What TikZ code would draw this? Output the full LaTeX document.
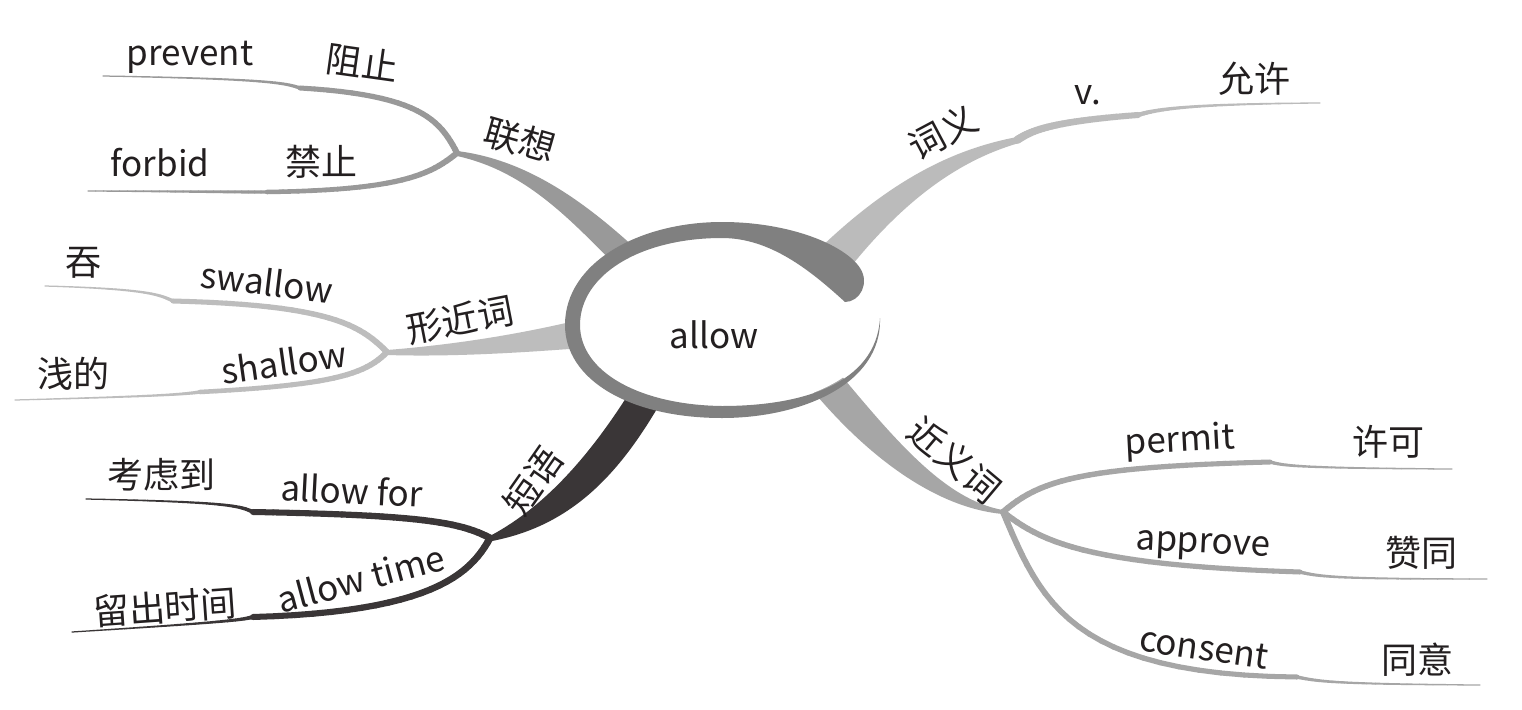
\documentclass[tikz,border=0pt]{standalone}
\usepackage{fontspec}
\setmainfont{Noto Sans CJK SC}
\definecolor{txt}{HTML}{231F20}
\definecolor{cLX}{HTML}{999999}
\definecolor{cXJ}{HTML}{BDBDBD}
\definecolor{cDY}{HTML}{3A3637}
\definecolor{cCY}{HTML}{BBBBBB}
\definecolor{cJY}{HTML}{A6A6A6}
\definecolor{cRing}{HTML}{808080}
\tikzset{
  lat/.style={text=txt, inner sep=0pt, font=\fontsize{35pt}{35pt}\selectfont},
  cjk/.style={text=txt, inner sep=0pt, font=\fontsize{36pt}{36pt}\selectfont},
}
% tapered curve: #1 start, #2 c1, #3 c2, #4 end, #5 w0, #6 w1, #7 colour
\newcommand\taperline[7]{%
  \path (#1) .. controls (#2) and (#3) .. (#4)
    foreach \k in {0,...,24} {coordinate[pos=\k/24] (tp-\k)};
  \foreach \k in {0,...,23}{%
    \pgfmathsetmacro\ww{#5+(#6-#5)*(\k+0.5)/24}%
    \pgfmathtruncatemacro\kn{\k+1}%
    \draw[line width=\ww pt, line cap=round, draw=#7] (tp-\k) -- (tp-\kn);
  }%
}
\begin{document}
\begin{tikzpicture}[x=1pt,y=-1pt]
\useasboundingbox (0,0) rectangle (1522,709);
\fill[white] (0,0) rectangle (1522,709);

% ---------- fork and step coordinates ----------
\coordinate (F1) at (457,153);   % lianxiang fork
\coordinate (F2) at (387,352);   % xingjinci fork
\coordinate (F3) at (490,538);   % duanyu fork
\coordinate (F5) at (1003,512);  % jinyici fork
\coordinate (N1) at (1017,140);  % ciyi notch 1
\coordinate (N2) at (1138,115);  % ciyi notch 2
\coordinate (Sa) at (300,88);  \coordinate (Ea) at (103,76);
\coordinate (Sb) at (267,192); \coordinate (Eb) at (88,191);
\coordinate (Sc) at (173,301); \coordinate (Ec) at (45,286);
\coordinate (Sd) at (200,392); \coordinate (Ed) at (15,400);
\coordinate (Se) at (253,512); \coordinate (Ee) at (86,499);
\coordinate (Sf) at (253,617); \coordinate (Ef) at (72,632);
\coordinate (Sg) at (1270,462); \coordinate (Eg) at (1452,469);
\coordinate (Sh) at (1300,572); \coordinate (Eh) at (1487,579);
\coordinate (Si) at (1297,677); \coordinate (Ei) at (1480,685);
\coordinate (Ej) at (1320,103);

% ---------- main branches ----------
\fill[cLX] (457,151) .. controls (530,160) and (590,205) .. (650,262)
  -- (630,280) .. controls (575,225) and (530,172) .. (457,156) -- cycle;
\fill[cXJ] (387,350) .. controls (450,345) and (520,335) .. (595,316)
  -- (595,347) .. controls (520,353) and (450,357) .. (387,355) -- cycle;
\fill[cDY] (488,537) .. controls (540,510) and (590,460) .. (642,372)
  -- (672,382) .. controls (625,470) and (575,525) .. (492,541) -- cycle;
\fill[cCY] (1017,137) .. controls (960,148) and (890,175) .. (800,268)
  -- (835,287) .. controls (900,200) and (960,160) .. (1019,143) -- cycle;
\fill[cJY] (835,368) .. controls (895,440) and (945,500) .. (1003,510)
  -- (1003,514) .. controls (935,508) and (865,455) .. (808,385) -- cycle;

% ---------- sub branches ----------
\taperline{F1}{440,120}{420,95}{Sa}{6}{5}{cLX}
\taperline{Sa}{285,83}{270,79}{Ea}{3.5}{1.2}{cLX}
\taperline{F1}{430,175}{400,190}{Sb}{6}{4.5}{cLX}
\taperline{Sb}{220,192}{150,191}{Eb}{3.5}{1.2}{cLX}

\taperline{F2}{360,325}{330,305}{Sc}{6}{5}{cXJ}
\taperline{Sc}{160,295}{150,289}{Ec}{3.5}{1.2}{cXJ}
\taperline{F2}{365,375}{330,385}{Sd}{6}{4.5}{cXJ}
\taperline{Sd}{185,394}{170,396}{Ed}{3.5}{1.2}{cXJ}

\taperline{F3}{460,522}{420,515}{Se}{7}{6}{cDY}
\taperline{Se}{240,506}{230,502}{Ee}{4}{1.2}{cDY}
\taperline{F3}{470,575}{430,612}{Sf}{7}{6}{cDY}
\taperline{Sf}{240,620}{230,622}{Ef}{4}{1.2}{cDY}

\taperline{N1}{1030,132}{1045,122}{N2}{8}{6}{cCY}
\taperline{N2}{1160,108}{1200,104}{Ej}{4.5}{1.2}{cCY}

\taperline{F5}{1040,480}{1080,467}{Sg}{6}{5}{cJY}
\taperline{Sg}{1285,466}{1300,468}{Eg}{3.5}{1.2}{cJY}
\taperline{F5}{1040,540}{1080,565}{Sh}{6}{5}{cJY}
\taperline{Sh}{1320,577}{1340,579}{Eh}{3.5}{1.2}{cJY}
\taperline{F5}{1040,600}{1070,675}{Si}{6}{5}{cJY}
\taperline{Si}{1320,682}{1340,684}{Ei}{3.5}{1.2}{cJY}

% ---------- central ellipse ----------
\fill[white] (727,322) ellipse [x radius=152, y radius=86];
\fill[cRing] (880,318) .. controls (882,385) and (800,418) .. (722,418)
  .. controls (630,418) and (565,380) .. (565,325)
  .. controls (565,262) and (640,222) .. (722,222)
  .. controls (790,222) and (845,245) .. (860,268)
  .. controls (870,283) and (860,302) .. (845,302)
  .. controls (810,270) and (770,238) .. (722,238)
  .. controls (640,238) and (580,275) .. (580,325)
  .. controls (580,372) and (640,405) .. (722,406)
  .. controls (800,406) and (876,385) .. (880,318) -- cycle;
\node[lat] (allow) at (714,335) {allow};

% ---------- labels ----------
\node[cjk, rotate=-16] (lianxiang) at (520,140) {联想};
\node[lat] (prevent) at (190,57) {prevent};
\node[cjk, rotate=-8] (zuzhi) at (362,63) {阻止};
\node[lat] (forbid) at (160,163) {forbid};
\node[cjk] (jinzhi) at (321,162) {禁止};

\node[cjk, rotate=11] (xingjinci) at (460,320) {形近词};
\node[cjk] (tun) at (83,263) {吞};
\node[lat, rotate=-7] (swallow) at (267,282) {swallow};
\node[cjk] (qiande) at (73,374) {浅的};
\node[lat, rotate=8] (shallow) at (284,362) {shallow};

\node[cjk, rotate=55] (duanyu) at (533,481) {短语};
\node[cjk] (kaolvdao) at (161,475) {考虑到};
\node[lat, rotate=-3] (allowfor) at (352,490) {allow for};
\node[cjk, rotate=4] (liuchu) at (165,607) {留出时间};
\node[lat, rotate=15] (allowtime) at (361,578) {allow time};

\node[cjk, rotate=28] (ciyi) at (943,132) {词义};
\node[lat] (v) at (1088,95) {v.};
\node[cjk] (yunxu) at (1254,79) {允许};

\node[cjk, rotate=-40] (jinyici) at (955,460) {近义词};
\node[lat, rotate=3] (permit) at (1180,442) {permit};
\node[cjk] (xuke) at (1388,442) {许可};
\node[lat, rotate=-3] (approve) at (1203,547) {approve};
\node[cjk] (zantong) at (1421,553) {赞同};
\node[lat, rotate=-8] (consent) at (1204,648) {consent};
\node[cjk] (tongyi) at (1417,660) {同意};
\end{tikzpicture}
\end{document}
